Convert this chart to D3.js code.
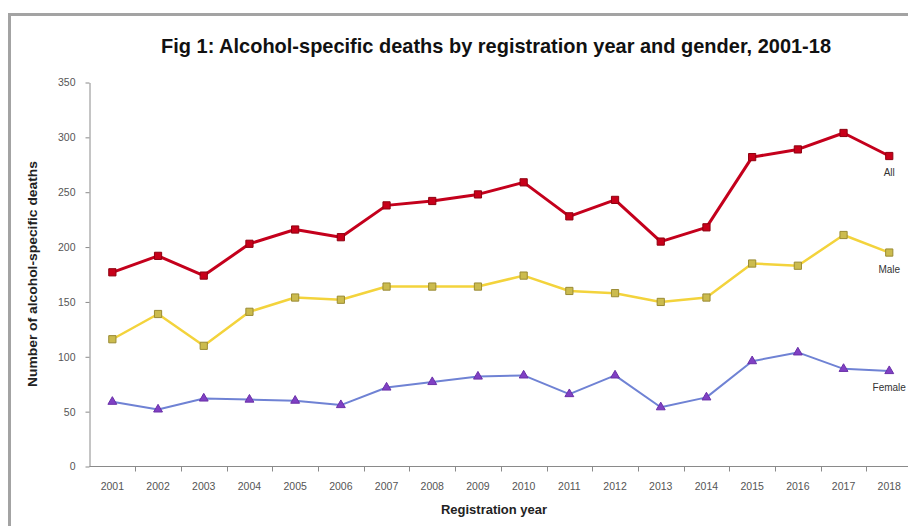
<!DOCTYPE html>
<html>
<head>
<meta charset="utf-8">
<script src="https://cdn.jsdelivr.net/npm/d3@7"></script>
<style>
  body { margin: 0; background: #fff; }
  svg { display: block; }
  text { font-family: "Liberation Sans", Arial, sans-serif; }
</style>
</head>
<body>
<div id="chart"></div>
<script>
// data
var years = ["2001","2002","2003","2004","2005","2006","2007","2008","2009",
             "2010","2011","2012","2013","2014","2015","2016","2017","2018"];
var allDeaths    = [177,192,174,203,216,209,238,242,248,259,228,243,205,218,282,289,304,283];
var maleDeaths   = [116,139,110,141,154,152,164,164,164,174,160,158,150,154,185,183,211,195];
var femaleDeaths = [59,52,62,61,60,56,72,77,82,83,66,83,54,63,96,104,89,87];
var yTicks = [0,50,100,150,200,250,300,350];

var width = 908, height = 526;

var svg = d3.select("#chart").append("svg")
  .attr("width", width).attr("height", height);

svg.append("rect").attr("width", width).attr("height", height).attr("fill", "#fff");

// outer frame (only left + top visible, chart is cropped)
svg.append("path")
  .attr("d", "M9.5," + height + "V14.5H" + width)
  .attr("fill", "none").attr("stroke", "#a3a3a3").attr("stroke-width", 3);

var x = d3.scaleBand().domain(years).range([89.5, 89.5 + 45.7 * years.length]).padding(0);
var y = d3.scaleLinear().domain([0, 350]).range([466.5, 82.5]);
var cx = function (d) { return x(d) + x.bandwidth() / 2; };

// title
svg.append("text")
  .attr("x", 496).attr("y", 53)
  .attr("text-anchor", "middle")
  .attr("textLength", 670).attr("lengthAdjust", "spacingAndGlyphs")
  .style("font-family", "'Liberation Sans Narrow', 'Arial Narrow', 'Liberation Sans', sans-serif")
  .style("font-weight", "bold").style("font-size", "21px").attr("fill", "#111")
  .text("Fig 1: Alcohol-specific deaths by registration year and gender, 2001-18");

// y axis
var yAxis = svg.append("g")
  .attr("transform", "translate(89.5,0)")
  .call(d3.axisLeft(y).tickValues(yTicks).tickSize(4).tickPadding(10).tickSizeOuter(0));
yAxis.select(".domain").attr("stroke", "#8a8a8a");
yAxis.selectAll(".tick line").attr("stroke", "#8a8a8a");
yAxis.selectAll(".tick text").attr("fill", "#555").style("font-size", "10.5px");

// x axis: ticks between categories
var xAxis = svg.append("g").attr("transform", "translate(0,466.5)");
xAxis.append("line")
  .attr("x1", 89.5).attr("x2", width)
  .attr("stroke", "#8a8a8a");
xAxis.selectAll("line.tk").data(years.slice(1)).enter().append("line")
  .attr("class", "tk")
  .attr("x1", function (d) { return Math.round(x(d)) + 0.5; })
  .attr("x2", function (d) { return Math.round(x(d)) + 0.5; })
  .attr("y1", 0).attr("y2", 5)
  .attr("stroke", "#8a8a8a");
xAxis.selectAll("text").data(years).enter().append("text")
  .attr("x", cx).attr("y", 23)
  .attr("text-anchor", "middle")
  .attr("fill", "#555").style("font-size", "10.5px")
  .text(function (d) { return d; });

// axis titles
svg.append("text")
  .attr("transform", "translate(37,274) rotate(-90)")
  .attr("text-anchor", "middle")
  .attr("textLength", 226).attr("lengthAdjust", "spacingAndGlyphs")
  .style("font-weight", "bold").style("font-size", "12.5px").attr("fill", "#222")
  .text("Number of alcohol-specific deaths");

svg.append("text")
  .attr("x", 494).attr("y", 514)
  .attr("text-anchor", "middle")
  .attr("textLength", 106).attr("lengthAdjust", "spacingAndGlyphs")
  .style("font-weight", "bold").style("font-size", "12.5px").attr("fill", "#222")
  .text("Registration year");

var series = [
  { name: "All", values: allDeaths, line: "#c4001c", width: 3, fill: "#c8001a", stroke: "#8e0010", shape: "square" },
  { name: "Male", values: maleDeaths, line: "#f3d33c", width: 2.5, fill: "#cbbb4e", stroke: "#9a8b33", shape: "square" },
  { name: "Female", values: femaleDeaths, line: "#6f82d4", width: 2, fill: "#8040c4", stroke: "#6a30a8", shape: "triangle" }
];

var line = d3.line()
  .x(function (d, i) { return cx(years[i]); })
  .y(function (d) { return y(d); });

series.forEach(function (s) {
  var g = svg.append("g");
  g.append("path")
    .attr("d", line(s.values))
    .attr("fill", "none")
    .attr("stroke", s.line)
    .attr("stroke-width", s.width)
    .attr("stroke-linejoin", "round");

  var sym = d3.symbol()
    .type(s.shape === "square" ? d3.symbolSquare : d3.symbolTriangle)
    .size(s.shape === "square" ? 52 : 34);

  g.selectAll("path.m").data(s.values).enter().append("path")
    .attr("class", "m")
    .attr("d", sym)
    .attr("transform", function (d, i) { return "translate(" + cx(years[i]) + "," + y(d) + ")"; })
    .attr("fill", s.fill)
    .attr("stroke", s.stroke)
    .attr("stroke-width", 1);

  var last = s.values.length - 1;
  g.append("text")
    .attr("x", cx(years[last]))
    .attr("y", y(s.values[last]) + 20)
    .attr("text-anchor", "middle")
    .attr("fill", "#333").style("font-size", "10px")
    .text(s.name);
});
</script>
</body>
</html>
